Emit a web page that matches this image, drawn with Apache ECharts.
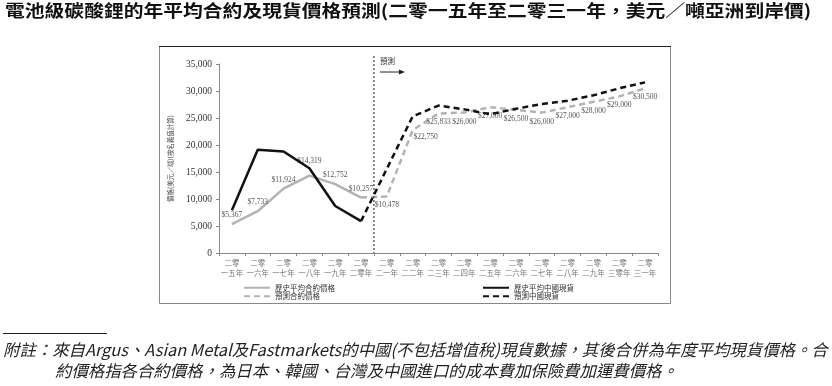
<!DOCTYPE html>
<html><head><meta charset="utf-8">
<script src="https://cdn.jsdelivr.net/npm/echarts@6/dist/echarts.min.js"></script>
<style>html,body{margin:0;padding:0;background:#fff}#c{width:832px;height:386px}</style>
</head><body><div id="c"></div>
<script>
const categories = ['二零\n一五年','二零\n一六年','二零\n一七年','二零\n一八年','二零\n一九年','二零\n二零年','二零\n二一年','二零\n二二年','二零\n二三年','二零\n二四年','二零\n二五年','二零\n二六年','二零\n二七年','二零\n二八年','二零\n二九年','二零\n三零年','二零\n三一年'];
const histContract = [5367, 7733, 11924, 14319, 12752, 10257, null, null, null, null, null, null, null, null, null, null, null];
const forecastContract = [null, null, null, null, null, 10257, 10478, 22750, 25833, 26000, 27000, 26500, 26000, 27000, 28000, 29000, 30500];
const histSpot = [7900, 19100, 18800, 15700, 8700, 5900, null, null, null, null, null, null, null, null, null, null, null];
const forecastSpot = [null, null, null, null, null, 5900, 15600, 25300, 27300, 26600, 25700, 26700, 27600, 28200, 29200, 30500, 31600];
const yTicks = [0, 5000, 10000, 15000, 20000, 25000, 30000, 35000];
const seriesNames = ['歷史平均合約價格', '預測合約價格', '歷史平均中國現貨', '預測中國現貨'];
const titleText = '電池級碳酸鋰的年平均合約及現貨價格預測(二零一五年至二零三一年，美元／噸亞洲到岸價)';
const yName = '價格(美元／噸)(按名義值計算)';
const forecastText = '預測';
const note1 = '附註：來自Argus、Asian Metal及Fastmarkets的中國(不包括增值稅)現貨數據，其後合併為年度平均現貨價格。合';
const note2 = '約價格指各合約價格，為日本、韓國、台灣及中國進口的成本費加保險費加運費價格。';

const fmt = v => '$' + v.toLocaleString('en-US');
const SERIF = '"Liberation Serif","DejaVu Serif",serif';
const CJK = '"Noto Sans CJK TC","Noto Sans CJK SC",sans-serif';
const labelBase = {show: true, fontSize: 7.5, color: '#555', fontFamily: SERIF, formatter: p => fmt(p.value)};

const histData = histContract.map((v, i) => ({
  value: v,
  label: Object.assign({}, labelBase, {position: 'top', distance: i === 3 ? 11 : 5})
}));
const fcData = forecastContract.map((v, i) => {
  const lab = Object.assign({}, labelBase, {position: 'bottom', distance: 5});
  if (i === 5) lab.show = false;
  if (i === 7) { lab.offset = [13, -2]; }
  return {value: v, label: lab};
});

const chart = echarts.init(document.getElementById('c'), null, {renderer: 'canvas'});
const GRID = {left: 219, right: 174, top: 64, bottom: 133};
const legendCommon = {orient: 'vertical', itemWidth: 26, itemHeight: 8, itemGap: 1,
  itemStyle: {opacity: 0},
  textStyle: {fontSize: 7.5, color: '#333', fontFamily: CJK}};
const lineSeries = (name, data, color, dashed, z) => ({
  name, type: 'line', data, symbol: 'circle', symbolSize: 0.01, showSymbol: true, z,
  lineStyle: {color, width: 2.5, type: dashed ? [6, 4] : 'solid'},
  itemStyle: {color}
});
chart.setOption({
  animation: false,
  backgroundColor: '#fff',
  grid: GRID,
  legend: [
    Object.assign({left: 238, top: 279, data: [seriesNames[0], seriesNames[1]]}, legendCommon),
    Object.assign({left: 477, top: 279, data: [seriesNames[2], seriesNames[3]]}, legendCommon)
  ],
  xAxis: {
    type: 'category', data: categories, boundaryGap: true,
    axisLine: {lineStyle: {color: '#888', width: 1}},
    axisTick: {show: true, length: 3, lineStyle: {color: '#888'}},
    axisLabel: {fontSize: 7.5, color: '#777', fontFamily: CJK, lineHeight: 10, margin: 5, interval: 0}
  },
  yAxis: {
    type: 'value', min: 0, max: 35000, interval: 5000,
    name: yName, nameLocation: 'middle', nameGap: 45, nameRotate: 90,
    nameTextStyle: {fontSize: 6.5, color: '#444', fontFamily: CJK},
    axisLine: {show: true, lineStyle: {color: '#888'}},
    axisTick: {show: true, length: 3, lineStyle: {color: '#888'}},
    splitLine: {show: false},
    axisLabel: {fontSize: 9.5, color: '#333', fontFamily: SERIF, margin: 7,
      formatter: v => yTicks.includes(v) ? v.toLocaleString('en-US') : ''}
  },
  series: [
    lineSeries(seriesNames[0], histData, '#b3b3b3', false, 3),
    lineSeries(seriesNames[1], fcData, '#b3b3b3', true, 3),
    lineSeries(seriesNames[2], histSpot, '#111', false, 4),
    lineSeries(seriesNames[3], forecastSpot, '#111', true, 4)
  ]
});

const x5 = chart.convertToPixel({xAxisIndex: 0}, categories[5]);
const x6 = chart.convertToPixel({xAxisIndex: 0}, categories[6]);
const xd = (x5 + x6) / 2;
const y0 = chart.convertToPixel({yAxisIndex: 0}, 0);

chart.setOption({
  graphic: [
    {type: 'text', left: 5, top: 2, scaleY: 0.85, style: {text: titleText, font: 'bold 19.8px ' + CJK, fill: '#111'}},
    {type: 'rect', shape: {x: 159.5, y: 46.5, width: 511, height: 257}, style: {fill: 'none', stroke: '#888', lineWidth: 1}, silent: true},
    {type: 'line', shape: {x1: 159, y1: 46.5, x2: 671, y2: 46.5}, style: {stroke: '#222', lineWidth: 1.2}},
    {type: 'line', shape: {x1: xd, y1: 56, x2: xd, y2: y0}, style: {stroke: '#111', lineWidth: 1, lineDash: [2, 2]}, z: 10},
    {type: 'text', x: xd + 6, y: 57, style: {text: forecastText, font: '7.5px ' + CJK, fill: '#333'}},
    {type: 'line', shape: {x1: xd + 6, y1: 72, x2: xd + 27, y2: 72}, style: {stroke: '#222', lineWidth: 1}},
    {type: 'polygon', shape: {points: [[xd + 31, 72], [xd + 25, 69.5], [xd + 25, 74.5]]}, style: {fill: '#222'}},
    {type: 'line', shape: {x1: 3, y1: 333.5, x2: 107, y2: 333.5}, style: {stroke: '#222', lineWidth: 1}},
    {type: 'text', x: 3, y: 342, style: {text: note1, font: 'italic 16.4px ' + CJK, fill: '#222'}},
    {type: 'text', x: 55, y: 363, style: {text: note2, font: 'italic 16.4px ' + CJK, fill: '#222'}}
  ]
});
</script></body></html>
